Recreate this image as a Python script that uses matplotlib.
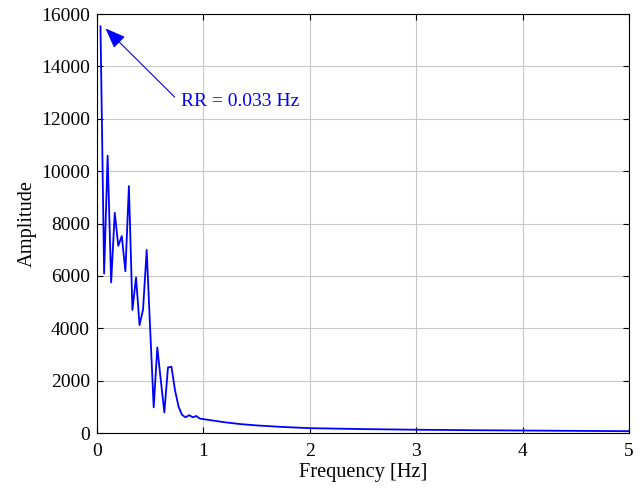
import matplotlib
matplotlib.use("Agg")
import matplotlib.pyplot as plt

# spectrum values (frequency step ~1/30 Hz at low end)
freq = [0.033, 0.067, 0.100, 0.133, 0.167, 0.200, 0.233, 0.267, 0.300, 0.333,
        0.367, 0.400, 0.433, 0.467, 0.500, 0.533, 0.567, 0.600, 0.633, 0.667,
        0.700, 0.733, 0.767, 0.800, 0.833, 0.867, 0.900, 0.933, 0.967, 1.000,
        1.100, 1.200, 1.350, 1.500, 1.750, 2.000, 2.500, 3.000, 3.500, 4.000,
        4.500, 5.000]
amp = [15530, 6090, 10590, 5750, 8410, 7150, 7520, 6180, 9430, 4700,
       5940, 4120, 4720, 6990, 3950, 980, 3270, 2000, 790, 2500,
       2530, 1640, 1000, 690, 600, 680, 600, 650, 550, 530,
       470, 410, 340, 290, 230, 185, 150, 125, 108, 95,
       82, 70]

plt.rcParams['font.family'] = ['Liberation Serif', 'DejaVu Serif']

fig = plt.figure(figsize=(6.44, 4.92), dpi=100)
ax = fig.add_axes([0.1506, 0.1199, 0.8261, 0.8516])

ax.plot(freq, amp, color='#0000ff', lw=1.3)

# arrow and label drawn separately, like a MATLAB textarrow
ax.annotate('', xy=(0.08, 15450), xytext=(0.73, 12830),
            arrowprops=dict(arrowstyle='-|>,head_length=0.9,head_width=0.35',
                            color='#0000ff', lw=0.8, shrinkA=0, shrinkB=0,
                            mutation_scale=14))
ax.text(0.79, 12650, 'RR = 0.033 Hz', color='#0000ff', fontsize=14,
        va='center', ha='left')

ax.set_xlim(0, 5)
ax.set_ylim(0, 16000)
ax.set_xticks(range(0, 6))
ax.set_yticks(range(0, 16001, 2000))
ax.grid(True, color='#c8c8c8', lw=0.8)
ax.set_axisbelow(True)
ax.tick_params(direction='in', top=True, right=True, length=4, labelsize=14,
               width=0.8)
ax.tick_params(axis='x', pad=7)
ax.tick_params(axis='y', pad=5)
for s in ax.spines.values():
    s.set_linewidth(0.8)
ax.set_xlabel('Frequency [Hz]', fontsize=14.7, labelpad=2)
ax.set_ylabel('Amplitude', fontsize=14.7, labelpad=3)

fig.savefig('out.png', dpi=100)
